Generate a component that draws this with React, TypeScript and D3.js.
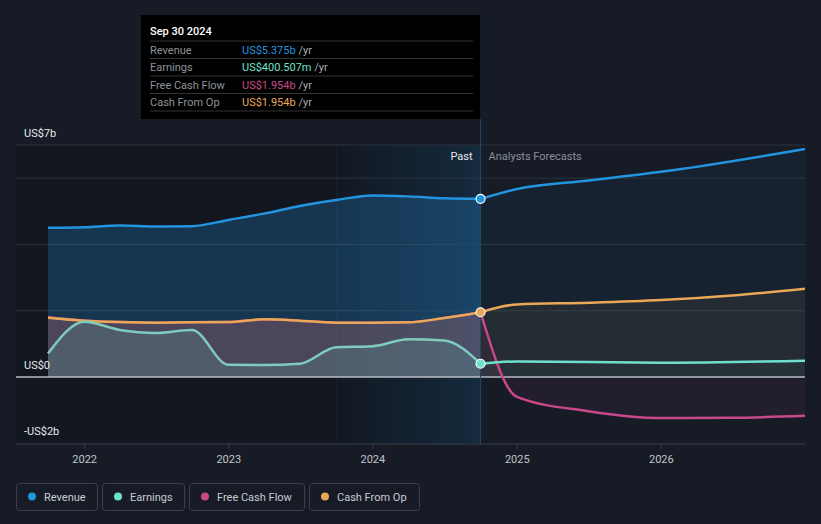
import React from "react";
import * as d3 from "d3";

const pastDates = ["2021-09-30","2021-12-31","2022-03-31","2022-06-30","2022-09-30","2022-12-31","2023-03-31","2023-06-30","2023-09-30","2023-12-31","2024-03-31","2024-06-30","2024-09-30"];
const revenuePast = [4.50,4.52,4.57,4.54,4.55,4.74,4.93,5.16,5.34,5.48,5.45,5.39,5.375];
const earningsPast = [0.71,1.67,1.42,1.33,1.42,0.37,0.36,0.40,0.90,0.93,1.14,1.10,0.40];
const fcfPast = [1.80,1.70,1.66,1.64,1.65,1.66,1.74,1.70,1.64,1.64,1.65,1.78,1.954];
const cfoPast = [1.79,1.70,1.66,1.64,1.65,1.66,1.74,1.70,1.64,1.64,1.65,1.78,1.954];

const revForecastDates = ["2024-09-30","2024-12-31","2025-06-30","2025-12-31","2026-12-31"];
const revenueForecast = [5.375,5.67,5.93,6.19,6.88];
const earnForecastDates = ["2024-09-30","2024-12-31","2025-12-31","2026-12-31"];
const earningsForecast = [0.40,0.47,0.43,0.49];
const cfForecastDates = ["2024-09-30","2024-12-31","2025-06-30","2025-12-31","2026-06-30","2026-12-31"];
const fcfForecast = [1.954,-0.60,-1.03,-1.24,-1.23,-1.17];
const cfoForecast = [1.954,2.19,2.24,2.32,2.46,2.66];

const yearTicks = ["2022","2023","2024","2025","2026"];
const yLabels = [{ v: 7, t: "US$7b" }, { v: 0, t: "US$0" }, { v: -2, t: "-US$2b" }];
const gridValues = [7, 6, 4, 2];

const COLORS = { revenue: "#2394df", earnings: "#6fe0cc", earningsPast: "#7fcbbd", fcf: "#c9488a", cfo: "#e8a857" };

const legendItems = [
  { label: "Revenue", color: COLORS.revenue },
  { label: "Earnings", color: COLORS.earnings },
  { label: "Free Cash Flow", color: COLORS.fcf },
  { label: "Cash From Op", color: COLORS.cfo },
];

const tooltipRows = [
  { label: "Revenue", value: "US$5.375b", color: COLORS.revenue },
  { label: "Earnings", value: "US$400.507m", color: COLORS.earnings },
  { label: "Free Cash Flow", value: "US$1.954b", color: COLORS.fcf },
  { label: "Cash From Op", value: "US$1.954b", color: COLORS.cfo },
];

const parse = d3.timeParse("%Y-%m-%d");
const FONT = "Roboto, 'Open Sans', sans-serif";

export default function App() {
  const W = 821, H = 524;
  const x = d3.scaleTime().domain([parse("2021-09-30")!, parse("2026-12-31")!]).range([48, 805]);
  const y = d3.scaleLinear().domain([-2, 7]).range([443.3, 145]);
  const nowX = x(parse("2024-09-30")!);
  const bandX = x(parse("2023-09-30")!);

  const mk = (dates: string[], vals: number[]) => dates.map((d, i) => ({ d: parse(d)!, v: vals[i] }));
  const line = d3.line<{ d: Date; v: number }>().x(p => x(p.d)).y(p => y(p.v)).curve(d3.curveMonotoneX);
  const area = d3.area<{ d: Date; v: number }>().x(p => x(p.d)).y0(y(0)).y1(p => y(p.v)).curve(d3.curveMonotoneX);

  const revP = mk(pastDates, revenuePast), revF = mk(revForecastDates, revenueForecast);
  const earP = mk(pastDates, earningsPast), earF = mk(earnForecastDates, earningsForecast);
  const fcfP = mk(pastDates, fcfPast), fcfF = mk(cfForecastDates, fcfForecast);
  const cfoP = mk(pastDates, cfoPast), cfoF = mk(cfForecastDates, cfoForecast);

  const legendWidths = [81, 82, 115, 110];
  let lx = 16;
  const legendPos = legendWidths.map(w => { const p = lx; lx += w + 5; return p; });

  return (
    <svg width={W} height={H} style={{ position: "absolute", left: 0, top: 0, background: "#161b26", fontFamily: FONT }}>
      <defs>
        <linearGradient id="band" x1="0" x2="1" y1="0" y2="0">
          <stop offset="0" stopColor="#2394df" stopOpacity={0.02} />
          <stop offset="0.9" stopColor="#2394df" stopOpacity={0.14} />
          <stop offset="1" stopColor="#2394df" stopOpacity={0.18} />
        </linearGradient>
      </defs>
      <rect x={0} y={0} width={W} height={H} fill="#161b26" />
      {/* past region darker */}
      <rect x={16} y={145} width={nowX - 16} height={443.3 - 145} fill="#000" fillOpacity={0.18} />
      {/* highlight band */}
      <rect x={bandX} y={145} width={nowX - bandX} height={443.3 - 145} fill="url(#band)" />
      <line x1={bandX} x2={bandX} y1={145} y2={444} stroke="#2394df" strokeOpacity={0.12} />
      {/* grid */}
      {gridValues.map(v => (
        <line key={v} x1={16} x2={805} y1={y(v)} y2={y(v)} stroke="#2c3240" strokeWidth={1} />
      ))}
      {/* past areas */}
      <path d={area(revP)!} fill={COLORS.revenue} fillOpacity={0.25} />
      <path d={area(cfoP)!} fill={COLORS.cfo} fillOpacity={0.15} />
      <path d={area(fcfP)!} fill={COLORS.fcf} fillOpacity={0.15} />
      <path d={area(earP)!} fill={COLORS.earnings} fillOpacity={0.15} />
      {/* forecast areas */}
      <path d={area(revF)!} fill={COLORS.revenue} fillOpacity={0.06} />
      <path d={area(cfoF)!} fill={COLORS.cfo} fillOpacity={0.07} />
      <path d={area(fcfF)!} fill={COLORS.fcf} fillOpacity={0.07} />
      <path d={area(earF)!} fill={COLORS.earnings} fillOpacity={0.04} />
      {/* zero line */}
      <line x1={16} x2={805} y1={y(0)} y2={y(0)} stroke="#b9bcc4" strokeWidth={1.5} />
      {/* bottom axis */}
      <line x1={16} x2={805} y1={444} y2={444} stroke="#3a404c" strokeWidth={1} />
      {yearTicks.map(t => {
        const tx = x(parse(t + "-01-01")!);
        return (
          <g key={t}>
            <line x1={tx} x2={tx} y1={444} y2={449} stroke="#3a404c" />
            <text x={tx} y={463} textAnchor="middle" fill="#c0c3ca" fontSize={11}>{t}</text>
          </g>
        );
      })}
      {/* now line */}
      <line x1={nowX} x2={nowX} y1={15} y2={444} stroke="#244766" strokeWidth={1} />
      {/* lines */}
      <path d={line(revP)!} fill="none" stroke={COLORS.revenue} strokeWidth={2.5} />
      <path d={line(revF)!} fill="none" stroke={COLORS.revenue} strokeWidth={2.5} />
      <path d={line(fcfP)!} fill="none" stroke={COLORS.fcf} strokeWidth={2.5} />
      <path d={line(fcfF)!} fill="none" stroke={COLORS.fcf} strokeWidth={2.5} />
      <path d={line(cfoP)!} fill="none" stroke={COLORS.cfo} strokeWidth={2.5} />
      <path d={line(cfoF)!} fill="none" stroke={COLORS.cfo} strokeWidth={2.5} />
      <path d={line(earP)!} fill="none" stroke={COLORS.earningsPast} strokeWidth={2.5} />
      <path d={line(earF)!} fill="none" stroke={COLORS.earnings} strokeWidth={2.5} />
      {/* markers */}
      <circle cx={nowX} cy={y(revenuePast[revenuePast.length - 1])} r={4.5} fill={COLORS.revenue} stroke="#fff" strokeWidth={1.2} />
      <circle cx={nowX} cy={y(cfoPast[cfoPast.length - 1])} r={4.5} fill={COLORS.cfo} stroke="#fff" strokeWidth={1.2} />
      <circle cx={nowX} cy={y(earningsPast[earningsPast.length - 1])} r={4.5} fill={COLORS.earnings} stroke="#fff" strokeWidth={1.2} />
      {/* y labels */}
      {yLabels.map(l => (
        <text key={l.t} x={24} y={y(l.v) - 8} fill="#e6e8ec" fontSize={11}>{l.t}</text>
      ))}
      {/* past / forecast labels */}
      <text x={nowX - 8} y={160} textAnchor="end" fill="#e6e8ec" fontSize={11}>Past</text>
      <text x={nowX + 8} y={160} fill="#8a8f99" fontSize={11}>Analysts Forecasts</text>
      {/* tooltip */}
      <rect x={141} y={15} width={nowX - 141} height={104} fill="#000" />
      <text x={150} y={35} fill="#fff" fontSize={11} fontWeight={500}>Sep 30 2024</text>
      {tooltipRows.map((r, i) => {
        const ry = 41 + i * 17.5;
        return (
          <g key={r.label}>
            <line x1={150} x2={473} y1={ry} y2={ry} stroke="#333" />
            <text x={150} y={ry + 12.5} fill="#8e9299" fontSize={11}>{r.label}</text>
            <text x={242} y={ry + 12.5} fontSize={11}>
              <tspan fill={r.color}>{r.value}</tspan>
              <tspan fill="#a9adb4"> /yr</tspan>
            </text>
          </g>
        );
      })}
      <line x1={150} x2={473} y1={111} y2={111} stroke="#333" />
      {/* legend */}
      {legendItems.map((it, i) => (
        <g key={it.label} transform={`translate(${legendPos[i]},483)`}>
          <rect x={0.5} y={0.5} width={legendWidths[i]} height={27} rx={3} fill="none" stroke="#3a3f4a" />
          <circle cx={16} cy={13.5} r={4} fill={it.color} />
          <text x={28} y={17.5} fill="#c9ccd2" fontSize={11}>{it.label}</text>
        </g>
      ))}
    </svg>
  );
}
